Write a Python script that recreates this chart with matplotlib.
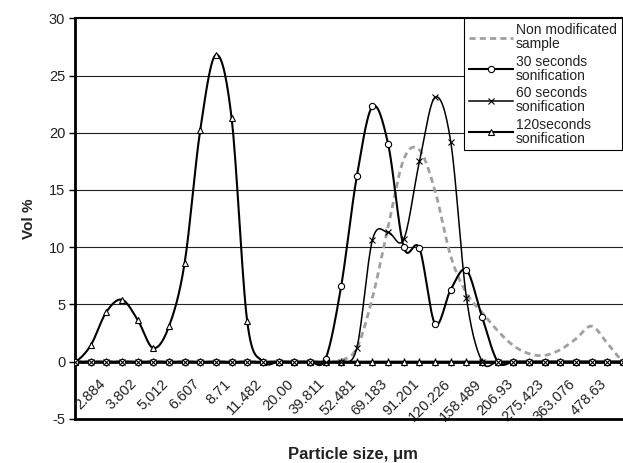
import matplotlib
matplotlib.use("Agg")
import matplotlib.pyplot as plt
import matplotlib.transforms as mtransforms
from matplotlib.lines import Line2D
import numpy as np

plt.rcParams["font.family"] = ["Liberation Sans", "DejaVu Sans"]
plt.rcParams["axes.unicode_minus"] = False

# category labels (Excel shows every second category, starting at the 2nd)
tick_labels = ["2.884", "3.802", "5,012", "6.607", "8.71", "11.482", "20.00",
               "39.811", "52.481", "69.183", "91.201", "120.226", "158.489",
               "206.93", "275.423", "363.076", "478.63"]

non_modified = [0, 0, 0, 0, 0, 0, 0, 0, 0, 0, 0, 0, 0, 0, 0, 0, 0,
                0.1, 1.2, 5.6, 11.8, 17.7, 18.5, 14.9, 9.2, 6.0, 4.3, 2.7,
                1.4, 0.7, 0.55, 1.05, 2.0, 3.1, 1.6, 0.1]
sec30 = [0, 0, 0, 0, 0, 0, 0, 0, 0, 0, 0, 0, 0, 0, 0, 0,
         0.25, 6.6, 16.2, 22.3, 19.0, 10.0, 9.9, 3.3, 6.3, 8.0, 3.9,
         0, 0, 0, 0, 0, 0, 0, 0, 0]
sec60 = [0, 0, 0, 0, 0, 0, 0, 0, 0, 0, 0, 0, 0, 0, 0, 0, 0, 0,
         1.2, 10.65, 11.3, 10.7, 17.5, 23.1, 19.2, 5.6,
         0, 0, 0, 0, 0, 0, 0, 0, 0, 0]
sec120 = [0, 1.42, 4.34, 5.41, 3.66, 1.19, 3.08, 8.61, 20.25, 26.8, 21.3, 3.52,
          0, 0, 0, 0, 0, 0, 0, 0, 0, 0, 0, 0, 0, 0, 0, 0, 0, 0, 0, 0, 0, 0, 0, 0]


def smooth(values, steps=16):
    """Catmull-Rom curve through the points, like Excel's smoothed lines."""
    p = np.asarray(values, float)
    pad = np.concatenate([[p[0]], p, [p[-1]]])
    t = np.linspace(0, 1, steps, endpoint=False)
    xs, ys = [], []
    for k in range(len(p) - 1):
        p0, p1, p2, p3 = pad[k:k + 4]
        y = 0.5 * (2 * p1 + (p2 - p0) * t + (2 * p0 - 5 * p1 + 4 * p2 - p3) * t ** 2
                   + (3 * p1 - p0 - 3 * p2 + p3) * t ** 3)
        xs.append(k + t)
        ys.append(y)
    xs.append([len(p) - 1])
    ys.append([p[-1]])
    return np.concatenate(xs), np.concatenate(ys)


W, H = 623, 463
fig = plt.figure(figsize=(W / 100, H / 100), dpi=100)
ax = fig.add_axes([75 / W, 1 - 418.9 / H, (W - 75) / W, (418.9 - 18.3) / H])

x = np.arange(len(sec30))
ax.set_xlim(0, (W - 75) / 15.74)
ax.set_ylim(-5, 30)

# grid
for g in range(5, 30, 5):
    ax.axhline(g, color="#222222", lw=0.8, zorder=1)

gx, gy = smooth(non_modified)
ax.plot(gx, gy, color="#a0a0a0", lw=2, dashes=(2.2, 1.5), zorder=3)

styles = [
    (sec120, "^", 1.5, 5),
    (sec30, "o", 1.5, 4.5),
    (sec60, "x", 1.1, 4.5),
]
for vals, mk, lw, ms in styles:
    sx, sy = smooth(vals)
    ax.plot(sx, sy, color="black", lw=lw, zorder=4)
    ax.plot(x, vals, ls="none", marker=mk, ms=ms, mfc="white", mec="black",
            mew=0.8, zorder=5)

# axes frame
ax.spines["bottom"].set_position(("data", 0))
ax.spines["bottom"].set_linewidth(2)
ax.spines["left"].set_linewidth(2)
ax.spines["top"].set_linewidth(1.5)
ax.spines["right"].set_visible(False)
ax.axhline(-5, color="black", lw=2, clip_on=False, zorder=6)

ax.set_xticks(x)
ax.tick_params(axis="x", direction="inout", length=6, width=1, labelbottom=False)
ax.set_yticks(range(-5, 31, 5))
ax.tick_params(axis="y", direction="out", length=4, width=1, labelsize=10.5,
               labelcolor="#222222", pad=3)

lab_tr = mtransforms.offset_copy(ax.transData, fig=fig, x=8, y=-15, units="dots")
for i, lab in zip(x[1::2], tick_labels):
    ax.text(i, 0, lab, rotation=45, ha="right", va="top", rotation_mode="anchor",
            fontsize=10.5, color="#222222", transform=lab_tr, clip_on=False)

ax.set_ylabel("Vol %", fontsize=11, fontweight="bold", color="#222222")
ax.yaxis.set_label_coords(-0.071, 0.5)
fig.text(353 / W, 1 - 455 / H, "Particle size, \u03bcm", ha="center", va="center",
         fontsize=12, fontweight="bold", color="#222222")

handles = [
    Line2D([], [], color="#a0a0a0", lw=2, dashes=(2.2, 1.5)),
    Line2D([], [], color="black", lw=1.5, marker="o", ms=4.5, mfc="white", mew=0.8),
    Line2D([], [], color="black", lw=1.1, marker="x", ms=4.5, mew=0.8),
    Line2D([], [], color="black", lw=1.5, marker="^", ms=5, mfc="white", mew=0.8),
]
labels = ["Non modificated\nsample", "30 seconds\nsonification",
          "60 seconds\nsonification", "120seconds\nsonification"]
leg = ax.legend(handles, labels, loc="upper left",
                bbox_to_anchor=(464 / W, 1 - 18.3 / H), bbox_transform=fig.transFigure,
                fancybox=False, edgecolor="black", framealpha=1, borderaxespad=0,
                handlelength=3.2, handletextpad=0.2, labelspacing=0.25,
                borderpad=0.35, fontsize=10, numpoints=1)
leg.get_frame().set_linewidth(0.8)
leg.set_zorder(10)
for t in leg.get_texts():
    t.set_linespacing(1.0)
    t.set_color("#222222")

fig.savefig("out.png", dpi=100)
